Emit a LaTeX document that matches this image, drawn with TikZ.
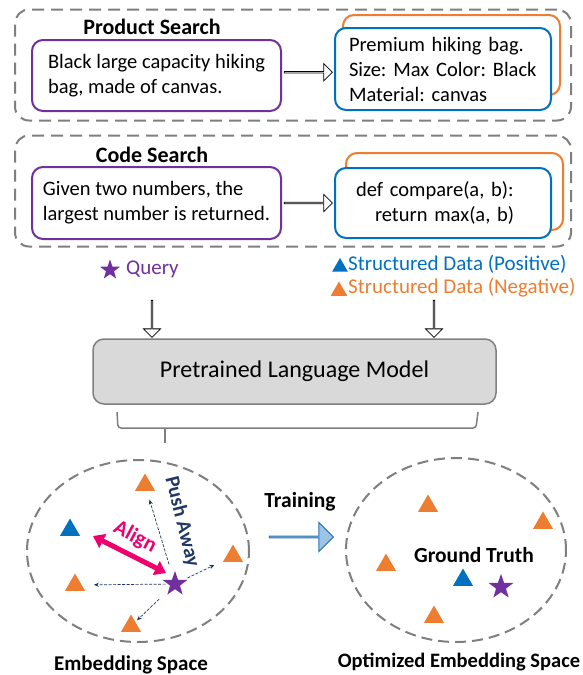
\documentclass[tikz,border=0pt]{standalone}
\usepackage{fontspec}
\setmainfont{Carlito}
\usetikzlibrary{shapes.geometric,shapes.arrows,arrows.meta}
\frenchspacing

\definecolor{qpurple}{HTML}{7030A0}
\definecolor{pblue}{HTML}{0070C0}
\definecolor{norange}{HTML}{ED7D31}
\definecolor{dgray}{HTML}{7F7F7F}
\definecolor{lgray}{HTML}{D9D9D9}
\definecolor{alignred}{HTML}{F0006E}
\definecolor{navy}{HTML}{1F3864}
\definecolor{tblue}{HTML}{9DC3E6}
\definecolor{tborder}{HTML}{2E75B6}

\begin{document}
\begin{tikzpicture}[x=1pt, y=-1pt,
	panel/.style={draw=dgray, line width=2pt, dash pattern=on 12pt off 7pt, rounded corners=14pt, minimum width=556pt, minimum height=111pt},
	qbox/.style={draw=qpurple, line width=2pt, rounded corners=11pt, minimum width=249pt, minimum height=71pt, align=left, font=\fontsize{20.5}{25}\selectfont},
	posbox/.style={draw=pblue, fill=white, line width=2pt, rounded corners=11pt, minimum height=82pt, align=left, font=\fontsize{20.5}{25}\selectfont},
	negbox/.style={draw=norange, line width=2pt, rounded corners=11pt, minimum width=217pt, minimum height=80pt},
	title/.style={font=\bfseries\fontsize{22}{26}\selectfont},
	label/.style={font=\bfseries\fontsize{21.5}{26}\selectfont},
	legend/.style={anchor=west, inner sep=0pt, font=\fontsize{21}{25}\selectfont},
	hollow/.style={draw, single arrow, fill=white, line width=0.8pt, minimum height=48pt, minimum width=17pt, single arrow head extend=4.5pt, inner sep=0pt},
	space/.style={draw=dgray, ellipse, line width=2pt, dash pattern=on 11pt off 6pt},
	negtri/.style={regular polygon, regular polygon sides=3, fill=norange, minimum size=23pt, inner sep=0pt},
	postri/.style={regular polygon, regular polygon sides=3, fill=pblue, minimum size=23pt, inner sep=0pt},
	query/.style={star, star points=5, star point ratio=2.5, fill=qpurple, minimum size=26pt, inner sep=0pt},
	push/.style={-{Stealth[length=5pt,width=4pt]}, navy, line width=0.7pt, dash pattern=on 3pt off 1.5pt}
	]
	\useasboundingbox (0,0) rectangle (583,675);

	% product search
	\node[panel] (prodpanel) at (293,65) {};
	\node[title] (prodtitle) at (152,27) {Product Search};
	\node[qbox] (qprod) at (156.5,75.5) {Black large capacity hiking\\bag, made of canvas.};
	\node[negbox] (negprod) at (451.5,55) {};
	\node[posbox, text width=188pt, inner xsep=14pt] (posprod) at (443,69) {Premium hiking bag.\\Size: Max Color: Black\\Material: canvas};
	\path (qprod.east) -- (posprod.west) node[midway, hollow] (prodarrow) {};

	% code search
	\node[panel] (codepanel) at (293,191) {};
	\node[title] (codetitle) at (152,155) {Code Search};
	\node[qbox, minimum height=72pt] (qcode) at (156.5,203) {Given two numbers, the\\largest number is returned.};
	\node[negbox, minimum height=77pt] (negcode) at (454.5,191.5) {};
	\node[posbox, minimum height=70pt, text width=174pt, inner xsep=21pt] (poscode) at (443,203) {def compare(a, b):\\\hspace*{19pt}return max(a, b)};
	\path (qcode.east) -- (poscode.west) node[midway, hollow] (codearrow) {};

	% legend
	\node[query, minimum size=21pt] (qstar) at (110,270) {};
	\node[legend, text=qpurple] (querylab) at (126,269) {Query};
	\node[postri, minimum size=18pt] (postag) at (340,267) {};
	\node[legend, text=pblue] (poslab) at (348,264) {Structured Data (Positive)};
	\node[negtri, minimum size=19pt] (negtag) at (339,291) {};
	\node[legend, text=norange] (neglab) at (348,288) {Structured Data (Negative)};

	\node[hollow, shape border rotate=270, minimum height=37pt] (qdown) at (152,318.5) {};
	\node[hollow, shape border rotate=270, minimum height=37pt] (sdown) at (434,318.5) {};

	% model
	\node[draw=dgray, fill=lgray, line width=1.5pt, rounded corners=11pt, minimum width=403pt, minimum height=65pt, font=\fontsize{24}{28}\selectfont] (plm) at (294.5,371.5) {Pretrained Language Model};
	\draw[dgray, line width=1.5pt, rounded corners=3pt] (117,412) -- (118,428) -- (476,428) -- (478,412);
	\draw[dgray, line width=1.5pt] (165,428) -- (165,443);

	% embedding space
	\node[space, minimum width=222pt, minimum height=182pt] (embspace) at (138,551) {};
	\node[negtri] (nega) at (145,485) {};
	\node[postri] (posa) at (70,530) {};
	\node[negtri] (negb) at (75,585) {};
	\node[negtri] (negc) at (131,626) {};
	\node[negtri] (negd) at (233,556) {};
	\node[query] (qa) at (175,584) {};
	\draw[{Triangle[width=15pt,length=11pt]}-{Triangle[width=15pt,length=11pt]}, alignred, line width=5pt] (93,536) -- (166,573);
	\node[text=alignred, label, rotate=-28] (alignlab) at (135,537) {Align};
	\node[text=navy, label, font=\bfseries\fontsize{20.5}{24}\selectfont, rotate=-76] (pushlab) at (182,522) {Push Away};
	\draw[push, shorten <=13pt, shorten >=9pt] (qa) -- (nega);
	\draw[push, shorten <=2pt, shorten >=12pt] (qa) -- (negb);
	\draw[push, shorten <=4pt, shorten >=10pt] (qa) -- (negd);
	\draw[push, shorten <=13pt, shorten >=2pt] (qa) -- (negc);
	\node[label, font=\bfseries\fontsize{21}{25}\selectfont] (emblab) at (131,665) {Embedding Space};

	% training
	\node[label] (trainlab) at (300,502) {Training};
	\node[single arrow, draw=tborder, fill=tblue, line width=1pt, minimum height=64pt, minimum width=29pt, single arrow head extend=8pt, inner sep=0pt] (trainarrow) at (301,537) {};

	% optimized space
	\node[space, minimum width=220pt, minimum height=184pt] (optspace) at (456,550) {};
	\node[negtri] (nege) at (428,506) {};
	\node[negtri] (negf) at (543,523) {};
	\node[negtri] (negg) at (386,565) {};
	\node[negtri] (negh) at (434,617) {};
	\node[postri] (posb) at (463,580) {};
	\node[query] (qb) at (501,587) {};
	\node[label] (gtlab) at (474,555) {Ground Truth};
	\node[label, font=\bfseries\fontsize{20.5}{25}\selectfont, inner xsep=0pt] (optlab) at (459,662) {Optimized Embedding Space};
\end{tikzpicture}
\end{document}
